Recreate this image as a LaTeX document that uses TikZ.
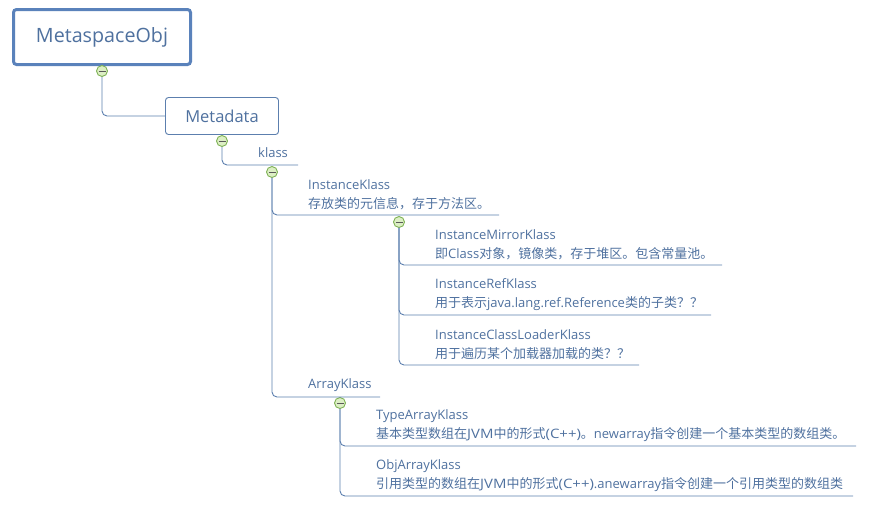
\documentclass[tikz,border=0pt]{standalone}
\usepackage{fontspec}
\setmainfont{Open Sans}
\newfontfamily\cjk{Noto Sans CJK SC}
\newfontfamily\widefont{Open Sans}[FakeStretch=1.15]
\newcommand{\zh}[1]{{\cjk #1}}
\newcommand{\wide}[1]{{\widefont #1}}
\definecolor{inkblue}{HTML}{4F719F}
\definecolor{lineblue}{HTML}{5C7FAE}
\definecolor{boxblue}{HTML}{5A82BB}
\definecolor{mmgreen}{HTML}{7FB255}
\definecolor{mmfill}{HTML}{DCEFC4}

\begin{document}
\begin{tikzpicture}[x=1pt,y=-1pt,
link/.style ={lineblue, line width=0.9pt, rounded corners=5pt},
root/.style ={rectangle,draw=boxblue,line width=3pt,rounded corners=3pt,fill=white,text=inkblue,minimum width=177pt,minimum height=55pt,inner sep=0pt,font=\fontsize{19.7}{24}\selectfont},
topic/.style ={rectangle,draw=lineblue,line width=0.9pt,rounded corners=3pt,fill=white,text=inkblue,minimum width=113pt,minimum height=37pt,inner sep=0pt,font=\fontsize{16.5}{20}\selectfont},
leaf/.style ={anchor=west,align=left,inner sep=0pt,text=inkblue,font=\fontsize{13}{19}\selectfont},
mm/.style ={circle,draw=mmgreen,line width=0.9pt,fill=mmfill,minimum size=11pt,inner sep=0pt,
  path picture={\draw[black!65,line width=0.7pt] ([xshift=2pt]path picture bounding box.west) -- ([xshift=-2pt]path picture bounding box.east);}}]

\useasboundingbox (0,0) rectangle (876,512);

\node[root] (MetaspaceObj) at (102,37) {MetaspaceObj};
\node[topic] (Metadata) at (222,116) {Metadata};

\node[leaf] (klass) at (258,153) {klass};
\node[leaf] (InstanceKlass) at (308,194.5) {InstanceKlass\\\zh{存放类的元信息，存于方法区。}};
\node[leaf] (ArrayKlass) at (308,385) {ArrayKlass};
\node[leaf] (MirrorKlass) at (435,244.5) {InstanceMirrorKlass\\\zh{即}Class\zh{对象，镜像类，存于堆区。包含常量池。}};
\node[leaf] (RefKlass) at (435,294.5) {InstanceRefKlass\\\zh{用于表示}java.lang.ref.Reference\zh{类的子类？？}};
\node[leaf] (LoaderKlass) at (435,344.5) {InstanceClassLoaderKlass\\\zh{用于遍历某个加载器加载的类？？}};
\node[leaf] (TypeArray) at (376,425.5) {TypeArrayKlass\\\zh{基本类型数组在}\wide{JVM}\zh{中的形式}\wide{(C++)}\zh{。}newarray\zh{指令创建一个基本类型的数组类。}};
\node[leaf] (ObjArray) at (376,475.5) {ObjArrayKlass\\\zh{引用类型的数组在}\wide{JVM}\zh{中的形式}\wide{(C++)}.anewarray\zh{指令创建一个引用类型的数组类}};

\coordinate (klassEnd) at (298,165);
\coordinate (InstanceEnd) at (499,215);
\coordinate (ArrayEnd) at (380,397);
\coordinate (MirrorEnd) at (722,265);
\coordinate (RefEnd) at (711,315);
\coordinate (LoaderEnd) at (639,365);
\coordinate (TypeEnd) at (856,446);
\coordinate (ObjEnd) at (853,496);

\node[mm] (m0) at (102,71) {};
\node[mm] (m1) at (222,141) {};
\node[mm] (m2) at (272,172) {};
\node[mm] (m3) at (399,222) {};
\node[mm] (m4) at (340,403) {};

\draw[link] (m0) |- (Metadata);
\draw[link] (m1) |- (klassEnd);
\draw[link] (m2) |- (InstanceEnd);
\draw[link] (m2) |- (ArrayEnd);
\draw[link] (m3) |- (MirrorEnd);
\draw[link] (m3) |- (RefEnd);
\draw[link] (m3) |- (LoaderEnd);
\draw[link] (m4) |- (TypeEnd);
\draw[link] (m4) |- (ObjEnd);

\end{tikzpicture}
\end{document}
